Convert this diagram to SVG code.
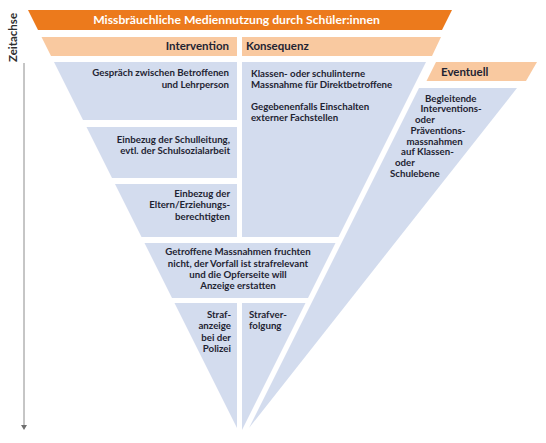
<svg xmlns="http://www.w3.org/2000/svg" width="546" height="443" viewBox="0 0 546 443">
<defs>
<marker id="arr" viewBox="0 0 5 6" refX="1" refY="3" markerWidth="5" markerHeight="6" markerUnits="userSpaceOnUse" orient="auto">
<path d="M0,0 L5,3 L0,6 Z" fill="#6f6f6f"/>
</marker>
</defs>
<style>
.or{fill:#EC7A1C}
.pe{fill:#F9C9A0}
.bl{fill:#D3DCEE}
text{font-family:Lato,"Open Sans","Liberation Sans",sans-serif;font-weight:700;fill:#1f2433}
.t{font-size:12.2px;fill:#ffffff}
.h{font-size:11.5px}
.b{font-size:9.7px}
.r{text-anchor:end}
.c{text-anchor:middle}
.ax{font-size:11.5px;fill:#2e2e2e}
</style>
<rect width="546" height="443" fill="#ffffff"/>

<g id="connectors">
<line x1="24" y1="63" x2="24" y2="426" stroke="#8c8c8c" stroke-width="1" marker-end="url(#arr)"/>
</g>

<g id="axis-label">
<text class="ax" transform="translate(17,37.5) rotate(-90)" text-anchor="middle">Zeitachse</text>
</g>

<g id="title">
<polygon class="or" points="28,10 452,10 442,30 38,30"/>
<text class="t" x="236.5" y="24" text-anchor="middle">Missbräuchliche Mediennutzung durch Schüler:innen</text>
</g>

<g id="intervention-header">
<polygon class="pe" points="41.5,37 237,37 237,56 51,56"/>
<text class="h r" x="229" y="50">Intervention</text>
</g>

<g id="konsequenz-header">
<polygon class="pe" points="242,37 441,37 432,56 242,56"/>
<text class="h" x="246" y="50">Konsequenz</text>
</g>

<g id="eventuell-header">
<polygon class="pe" points="436,62 537,62 526,81 426.5,81"/>
<text class="h" x="441" y="76">Eventuell</text>
</g>

<g id="gespraech">
<polygon class="bl" points="54,62 237,62 237,120 83,120"/>
<text class="b r" x="229" y="76">Gespräch zwischen Betroffenen</text>
<text class="b r" x="229" y="87.5">und Lehrperson</text>
</g>

<g id="schulleitung">
<polygon class="bl" points="86.5,127 237,127 237,178 112,178"/>
<text class="b r" x="230" y="142.5">Einbezug der Schulleitung,</text>
<text class="b r" x="230" y="154">evtl. der Schulsozialarbeit</text>
</g>

<g id="eltern">
<polygon class="bl" points="115,184 237,184 237,237 141.5,237"/>
<text class="b r" x="230" y="197">Einbezug der</text>
<text class="b r" x="230" y="208.3">Eltern/Erziehungs-</text>
<text class="b r" x="230" y="219.6">berechtigten</text>
</g>

<g id="konsequenz">
<polygon class="bl" points="242,62 426,62 338.5,237 242,237"/>
<text class="b" x="251" y="77">Klassen- oder schulinterne</text>
<text class="b" x="251" y="88">Massnahme für Direktbetroffene</text>
<text class="b" x="251" y="109.5">Gegebenenfalls Einschalten</text>
<text class="b" x="251" y="120.5">externer Fachstellen</text>
</g>

<g id="massnahmen">
<polygon class="bl" points="144.5,243 335.5,243 308,298 172,298"/>
<text class="b c" x="238" y="255">Getroffene Massnahmen fruchten</text>
<text class="b c" x="238" y="266.5">nicht, der Vorfall ist strafrelevant</text>
<text class="b c" x="238" y="277.8">und die Opferseite will</text>
<text class="b c" x="238" y="289">Anzeige erstatten</text>
</g>

<g id="strafanzeige">
<polygon class="bl" points="174.5,303 237,303 237,428"/>
<text class="b r" x="231" y="318">Straf-</text>
<text class="b r" x="231" y="329.3">anzeige</text>
<text class="b r" x="231" y="340.6">bei der</text>
<text class="b r" x="231" y="351.8">Polizei</text>
</g>

<g id="strafverfolgung">
<polygon class="bl" points="242,303 305.5,303 242,430"/>
<text class="b" x="249" y="318">Strafver-</text>
<text class="b" x="249" y="329.3">folgung</text>
</g>

<g id="eventuell">
<polygon class="bl" points="419,88 517,88 249,428"/>
<text class="b" x="425" y="101.7">Begleitende</text>
<text class="b" x="420.5" y="112.4">Interventions-</text>
<text class="b" x="415" y="123.1">oder</text>
<text class="b" x="410.5" y="133.8">Präventions-</text>
<text class="b" x="406.5" y="144.5">massnahmen</text>
<text class="b" x="401" y="155.2">auf Klassen-</text>
<text class="b" x="395" y="165.9">oder</text>
<text class="b" x="390" y="176.6">Schulebene</text>
</g>
</svg>
